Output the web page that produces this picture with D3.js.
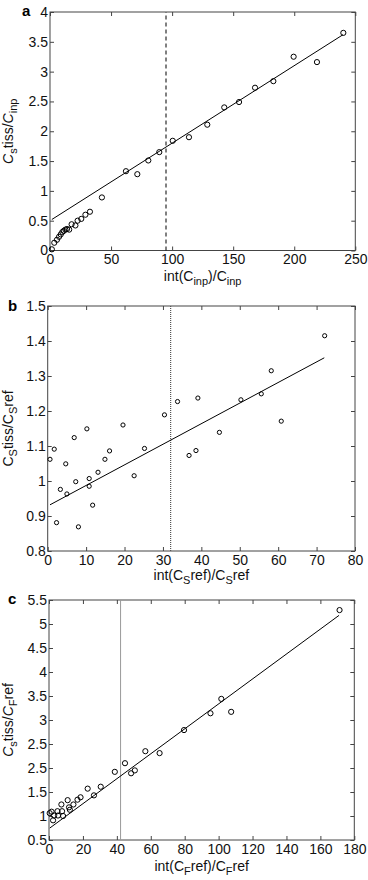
<!DOCTYPE html>
<html><head><meta charset="utf-8">
<script src="https://cdn.jsdelivr.net/npm/d3@7"></script>
<style>
body{margin:0;background:#fff;}
text{font-family:"Liberation Sans",Arial,Helvetica,sans-serif;}
</style></head><body>
<svg id="chart" width="368" height="880"></svg>
<script>
// ---- Panel a data ----
const aX = [1.5, 3.5, 5.7, 7.4, 8.8, 10.1, 11.3, 12.6, 13.9, 15.7, 17.7, 20.8, 22.6, 25.6, 29.0, 32.7, 42.5, 62.2, 71.5, 80.5, 89.5, 100.5, 113.8, 128.8, 142.7, 154.8, 167.9, 182.9, 199.5, 218.6, 240.2];
const aY = [0.02, 0.13, 0.18, 0.23, 0.27, 0.31, 0.33, 0.35, 0.36, 0.35, 0.44, 0.42, 0.50, 0.53, 0.60, 0.65, 0.89, 1.33, 1.28, 1.51, 1.65, 1.84, 1.90, 2.11, 2.40, 2.49, 2.73, 2.84, 3.25, 3.16, 3.65];
const aFit = [[1.5, 0.52], [240, 3.62]];
const aVline = 95;
const aXTicks = [0, 50, 100, 150, 200, 250];
const aYTicks = [0, 0.5, 1, 1.5, 2, 2.5, 3, 3.5, 4];
const aYLabels = ["0", "0.5", "1", "1.5", "2", "2.5", "3", "3.5", "4"];

// ---- Panel b data ----
const bX = [0.6, 1.7, 2.3, 3.3, 4.7, 5.0, 6.9, 7.3, 8.0, 10.2, 10.8, 10.8, 11.7, 13.1, 14.9, 16.1, 19.6, 22.5, 25.2, 30.4, 33.8, 36.8, 38.6, 39.1, 44.7, 50.3, 55.6, 58.2, 60.8, 72.1];
const bY = [1.062, 1.091, 0.881, 0.976, 1.049, 0.963, 1.124, 0.998, 0.869, 1.149, 1.007, 0.985, 0.931, 1.025, 1.062, 1.086, 1.160, 1.015, 1.093, 1.189, 1.227, 1.073, 1.087, 1.237, 1.139, 1.232, 1.249, 1.315, 1.171, 1.415];
const bFit = [[0.6, 0.932], [72, 1.352]];
const bVline = 32;
const bXTicks = [0, 10, 20, 30, 40, 50, 60, 70, 80];
const bYTicks = [0.8, 0.9, 1.0, 1.1, 1.2, 1.3, 1.4, 1.5];
const bYLabels = ["0.8", "0.9", "1", "1.1", "1.2", "1.3", "1.4", "1.5"];

// ---- Panel c data ----
const cX = [0.4, 1.5, 2.4, 3.0, 5.0, 5.3, 7.3, 7.7, 8.3, 11.0, 11.8, 12.3, 14.4, 16.8, 18.6, 22.8, 26.5, 30.5, 38.8, 44.8, 48.4, 50.6, 56.8, 65.2, 79.6, 95.2, 101.6, 107.4, 171.3];
const cY = [1.06, 1.09, 0.91, 1.01, 1.10, 1.01, 1.24, 1.10, 1.00, 1.33, 1.18, 1.13, 1.24, 1.34, 1.39, 1.57, 1.43, 1.61, 1.92, 2.10, 1.89, 1.95, 2.35, 2.31, 2.79, 3.14, 3.44, 3.17, 5.29];
const cFit = [[0.5, 0.75], [171, 5.18]];
const cVline = 42.2;
const cXTicks = [0, 20, 40, 60, 80, 100, 120, 140, 160, 180];
const cYTicks = [0.5, 1, 1.5, 2, 2.5, 3, 3.5, 4, 4.5, 5, 5.5];
const cYLabels = ["0.5", "1", "1.5", "2.5", "2.5", "3", "3.5", "4", "4.5", "5", "5.5"];

const svg = d3.select("#chart");
svg.append("rect").attr("width", 368).attr("height", 880).attr("fill", "#fff");

const FS = 14, SUB = 11;
function panel(o) {
  const x = d3.scaleLinear().domain(o.xDom).range(o.xRange);
  const y = d3.scaleLinear().domain(o.yDom).range(o.yRange);
  const g = svg.append("g");
  const axStyle = sel => {
    sel.selectAll("path.domain").remove();
    sel.selectAll("line").attr("stroke", "#444").attr("stroke-width", 1);
    sel.selectAll("text").attr("font-size", FS).attr("fill", "#111");
  };
  const yLab = d => o.yLabels[o.yTicks.indexOf(d)];
  g.append("g").attr("transform", `translate(0,${o.yRange[0]})`)
    .call(d3.axisBottom(x).tickValues(o.xTicks).tickFormat(d3.format("d")).tickSizeInner(-4).tickSizeOuter(0).tickPadding(o.xPad)).call(axStyle);
  g.append("g").attr("transform", `translate(0,${o.yRange[1]})`)
    .call(d3.axisTop(x).tickValues(o.xTicks).tickFormat("").tickSizeInner(-4).tickSizeOuter(0)).call(axStyle);
  g.append("g").attr("transform", `translate(${o.xRange[0]},0)`)
    .call(d3.axisLeft(y).tickValues(o.yTicks).tickFormat(yLab).tickSizeInner(-4).tickSizeOuter(0).tickPadding(2)).call(axStyle);
  g.append("g").attr("transform", `translate(${o.xRange[1]},0)`)
    .call(d3.axisRight(y).tickValues(o.yTicks).tickFormat("").tickSizeInner(-4).tickSizeOuter(0)).call(axStyle);
  // frame
  g.append("rect").attr("x", o.xRange[0]).attr("y", o.yRange[1])
    .attr("width", o.xRange[1] - o.xRange[0]).attr("height", o.yRange[0] - o.yRange[1])
    .attr("fill", "none").attr("stroke", "#444").attr("stroke-width", 1);
  // vertical reference line
  g.append("line").attr("x1", x(o.vline)).attr("x2", x(o.vline))
    .attr("y1", o.yRange[0]).attr("y2", o.yRange[1])
    .attr("stroke", o.vColor).attr("stroke-width", o.vWidth)
    .attr("stroke-dasharray", o.vDash);
  // fit line
  g.append("path").datum(o.fit)
    .attr("d", d3.line().x(d => x(d[0])).y(d => y(d[1])))
    .attr("fill", "none").attr("stroke", "#000").attr("stroke-width", 1);
  // points
  g.selectAll("circle.pt").data(o.xs.map((v, i) => [v, o.ys[i]])).enter()
    .append("circle").attr("class", "pt")
    .attr("cx", d => x(d[0])).attr("cy", d => y(d[1])).attr("r", o.r)
    .attr("fill", "none").attr("stroke", "#000").attr("stroke-width", 1);
  // panel letter
  g.append("text").attr("x", o.letterPos[0]).attr("y", o.letterPos[1])
    .attr("font-size", 15).attr("font-weight", "bold").text(o.letter);
  // x title
  const xt = g.append("text").attr("x", (o.xRange[0] + o.xRange[1]) / 2).attr("y", o.xTitleY)
    .attr("text-anchor", "middle").attr("font-size", FS).attr("fill", "#111");
  o.xTitle.forEach(p => addPart(xt, p));
  // y title
  const cy = (o.yRange[0] + o.yRange[1]) / 2;
  const yt = g.append("text").attr("transform", `translate(13,${cy}) rotate(-90)`)
    .attr("text-anchor", "middle").attr("font-size", FS).attr("fill", "#111");
  o.yTitle.forEach(p => addPart(yt, p));
}
function addPart(t, p) {
  const ts = t.append("tspan").text(p.t);
  if (p.i) ts.attr("font-style", "italic");
  if (p.s) ts.attr("font-size", SUB).attr("dy", 4);
  if (p.back) ts.attr("dy", -4);
}

panel({
  xDom: [0, 250], xRange: [50, 355.3], yDom: [0, 4], yRange: [250.5, 12],
  xTicks: aXTicks, yTicks: aYTicks, yLabels: aYLabels, xPad: 4,
  xs: aX, ys: aY, fit: aFit, vline: aVline, vColor: "#000", vWidth: 1, vDash: "4,3",
  r: 2.6, letter: "a", letterPos: [22, 16], xTitleY: 281,
  xTitle: [{t: "int(C"}, {t: "inp", s: 1}, {t: ")/C", back: 1}, {t: "inp", s: 1}],
  yTitle: [{t: "C", i: 1}, {t: "s", s: 1}, {t: "tiss/", back: 1}, {t: "C", i: 1}, {t: "inp", s: 1}]
});
panel({
  xDom: [0, 80], xRange: [47.7, 355], yDom: [0.8, 1.5], yRange: [551, 306],
  xTicks: bXTicks, yTicks: bYTicks, yLabels: bYLabels, xPad: 4,
  xs: bX, ys: bY, fit: bFit, vline: bVline, vColor: "#555", vWidth: 1.2, vDash: "1,1",
  r: 2.1, letter: "b", letterPos: [8, 311], xTitleY: 580,
  xTitle: [{t: "int(C"}, {t: "S", s: 1}, {t: "ref)/C", back: 1}, {t: "S", s: 1}, {t: "ref", back: 1}],
  yTitle: [{t: "C"}, {t: "S", s: 1}, {t: "tiss/C", back: 1}, {t: "S", s: 1}, {t: "ref", back: 1}]
});
panel({
  xDom: [0, 180], xRange: [49, 354.3], yDom: [0.5, 5.5], yRange: [840, 600],
  xTicks: cXTicks, yTicks: cYTicks, yLabels: cYLabels, xPad: 4,
  xs: cX, ys: cY, fit: cFit, vline: cVline, vColor: "#999", vWidth: 1, vDash: null,
  r: 2.6, letter: "c", letterPos: [8, 604], xTitleY: 871,
  xTitle: [{t: "int(C"}, {t: "F", s: 1}, {t: "ref)/C", back: 1}, {t: "F", s: 1}, {t: "ref", back: 1}],
  yTitle: [{t: "C", i: 1}, {t: "s", s: 1}, {t: "tiss/", back: 1}, {t: "C", i: 1}, {t: "F", s: 1}, {t: "ref", back: 1}]
});
</script>
</body></html>
